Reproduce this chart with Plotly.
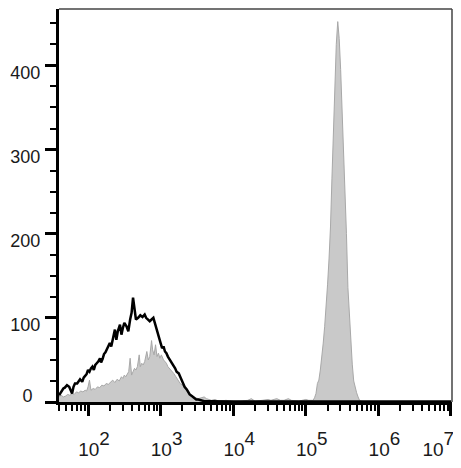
import plotly.graph_objects as go

# ---- data ----
# exponents (log10 of fluorescence) and event counts
gray_log = [1.60, 1.63, 1.66, 1.69, 1.72, 1.75, 1.78, 1.81, 1.84, 1.87, 1.90, 1.93, 1.96, 1.98,
            2.00, 2.02, 2.04, 2.07, 2.10, 2.13, 2.16, 2.19, 2.22, 2.25, 2.28, 2.31, 2.34, 2.37,
            2.40, 2.43, 2.46, 2.48, 2.50, 2.52, 2.54, 2.56, 2.58, 2.60, 2.62, 2.64, 2.66, 2.68,
            2.705, 2.72, 2.74, 2.76, 2.78, 2.81, 2.83, 2.85, 2.875, 2.89, 2.91, 2.93, 2.95, 2.97,
            2.99, 3.01, 3.04, 3.06, 3.08, 3.10, 3.12, 3.15, 3.18, 3.21, 3.24, 3.27, 3.30, 3.33,
            3.36, 3.39, 3.42, 3.45, 3.48, 3.52, 3.56, 3.60, 3.63, 3.66, 3.70, 3.75, 3.80, 3.90,
            4.00, 4.10, 4.20, 4.25, 4.30, 4.40, 4.48, 4.52, 4.56, 4.60, 4.65, 4.70, 4.76, 4.80,
            4.90, 4.95, 5.00, 5.04, 5.08,
            5.10, 5.12, 5.14, 5.16, 5.18, 5.20, 5.22, 5.24, 5.26, 5.28, 5.30, 5.32, 5.34, 5.36,
            5.38, 5.40, 5.42, 5.44, 5.46, 5.48, 5.50, 5.52, 5.54, 5.56, 5.58, 5.60, 5.62, 5.64,
            5.66, 5.68, 5.70, 5.72, 5.74, 5.76, 5.80, 6.00, 6.50, 7.00]
gray_count = [6, 8, 6, 7, 9, 8, 10, 9, 12, 11, 13, 12, 14, 13,
              18, 26, 14, 16, 15, 18, 17, 20, 19, 22, 21, 24, 26, 23,
              27, 25, 30, 28, 32, 30, 34, 36, 52, 32, 36, 40, 38, 42,
              56, 42, 46, 44, 48, 60, 50, 54, 73, 62, 56, 68, 54, 58,
              52, 56, 50, 48, 46, 42, 40, 38, 34, 30, 26, 22, 20, 16,
              13, 10, 8, 6, 5, 4, 5, 6, 4, 3, 2, 3, 1, 2,
              1, 1, 2, 4, 1, 2, 3, 2, 3, 4, 2, 2, 4, 2,
              1, 2, 3, 2, 2,
              2, 5, 10, 22, 26, 38, 52, 70, 90, 112, 140, 170, 208, 266,
              326, 378, 425, 452, 432, 395, 350, 310, 255, 200, 136, 100, 72, 45,
              25, 17, 11, 6, 2, 1, 0.5, 0.3, 0.2, 0.2]

black_log = [1.60, 1.63, 1.66, 1.68, 1.71, 1.74, 1.76, 1.78, 1.80, 1.82, 1.85, 1.87, 1.89, 1.92,
             1.94, 1.96, 1.98, 2.00, 2.02, 2.04, 2.06, 2.08, 2.10, 2.12, 2.14, 2.165, 2.18, 2.20,
             2.22, 2.24, 2.26, 2.28, 2.30, 2.32, 2.345, 2.37, 2.39, 2.41, 2.44, 2.46, 2.48, 2.50,
             2.53, 2.555, 2.58, 2.60, 2.62, 2.64, 2.66, 2.69, 2.72, 2.75, 2.78, 2.80, 2.82, 2.85,
             2.875, 2.90, 2.92, 2.95, 2.97, 3.00, 3.02, 3.04, 3.06, 3.08, 3.10, 3.13, 3.15, 3.17,
             3.20, 3.22, 3.25, 3.27, 3.29, 3.31, 3.33, 3.36, 3.38, 3.40, 3.43, 3.46, 3.49, 3.52,
             3.56, 3.60, 3.70, 4.00, 5.00, 6.00, 7.00]
black_count = [8, 12, 16, 17, 20, 18, 14, 10, 18, 22, 22, 25, 27, 24,
               29, 31, 33, 38, 36, 40, 42, 38, 44, 46, 48, 52, 47, 51,
               57, 59, 63, 66, 70, 66, 78, 86, 74, 84, 92, 80, 88, 94,
               90, 84, 98, 106, 124, 110, 98, 100, 103, 101, 104, 100, 98, 96,
               98, 100, 94, 86, 78, 70, 64, 66, 60, 58, 54, 50, 46, 44,
               40, 36, 34, 30, 26, 22, 18, 15, 12, 9, 7, 5, 3, 3,
               2, 1, 1, 0.6, 0.6, 0.6, 0.6]

major_ticks = [1e2, 1e3, 1e4, 1e5, 1e6, 1e7]
major_labels = ["2", "3", "4", "5", "6", "7"]
y_ticks = [0, 100, 200, 300, 400]
y_labels = ["0", "100", "200", "300", "400"]

# ---- figure ----
FONT = "Liberation Sans, Arial, sans-serif"
Y_RANGE = [0, 467]
Y_LABEL_OFFSET = 8.3   # count units: labels 100..400 sit ~7px below their ticks

def lab(p, trail=0):
    return ("<span style='font-size:19px'>10</span><sup>%s</sup>" % p) + "\u00a0" * trail

tick_text = [lab(p) for p in major_labels[:-1]] + [lab(major_labels[-1], 5)]

minor_vals = [m * 10 ** d for d in range(1, 7) for m in range(2, 10)]

fig = go.Figure()
fig.add_trace(go.Scatter(
    x=[10 ** e for e in gray_log], y=gray_count,
    mode="lines", line=dict(color="#a8a8a8", width=1),
    fill="tozeroy", fillcolor="#c9c9c9", hoverinfo="skip", showlegend=False))
fig.add_trace(go.Scatter(
    x=[10 ** e for e in black_log], y=black_count,
    mode="lines", line=dict(color="#000000", width=2.5),
    hoverinfo="skip", showlegend=False))
# empty trace so the label-only overlay axis is drawn
fig.add_trace(go.Scatter(x=[], y=[], yaxis="y2", showlegend=False, hoverinfo="skip"))

# the page body has an 8px default margin, so the figure is sized to fit inside
fig.update_layout(
    width=453, height=460,
    margin=dict(l=51, r=9, t=1, b=66),
    paper_bgcolor="white", plot_bgcolor="white",
    font=dict(family=FONT, size=18, color="#1a1a1a"),
    showlegend=False,
    xaxis=dict(
        type="log", range=[1.60, 7.014], automargin=False,
        tickmode="array", tickvals=major_ticks, ticktext=tick_text,
        ticks="outside", ticklen=11, tickwidth=3, tickcolor="#000",
        ticklabelshift=6, ticklabelstandoff=8, ticklabeloverflow="allow",
        tickfont=dict(family=FONT, size=27, color="#1a1a1a"),
        minor=dict(tickmode="array", tickvals=minor_vals, ticks="outside",
                   ticklen=6, tickwidth=2, tickcolor="#000", showgrid=False),
        showline=True, linewidth=2.5, linecolor="#000",
        showgrid=False, zeroline=False,
    ),
    yaxis=dict(
        range=Y_RANGE, automargin=False,
        tickmode="array", tickvals=y_ticks, ticktext=[y_labels[0]] + [""] * 4,
        ticks="outside", ticklen=11, tickwidth=3, tickcolor="#000",
        ticklabelshift=-6, ticklabelstandoff=9, ticklabeloverflow="allow",
        tickfont=dict(family=FONT, size=18, color="#1a1a1a"),
        minor=dict(dtick=25, ticks="outside", ticklen=6, tickwidth=2,
                   tickcolor="#000", showgrid=False),
        showline=True, linewidth=3, linecolor="#000",
        showgrid=False, zeroline=False,
    ),
    yaxis2=dict(
        overlaying="y", anchor="x", side="left", automargin=False,
        range=[Y_RANGE[0] + Y_LABEL_OFFSET, Y_RANGE[1] + Y_LABEL_OFFSET],
        tickmode="array", tickvals=y_ticks[1:], ticktext=y_labels[1:],
        ticks="outside", ticklen=11, tickwidth=1, tickcolor="rgba(0,0,0,0)",
        ticklabelstandoff=3, ticklabeloverflow="allow",
        tickfont=dict(family=FONT, size=18, color="#1a1a1a"),
        showline=False, showgrid=False, zeroline=False,
    ),
    shapes=[
        dict(type="line", xref="paper", yref="paper", x0=0, x1=1, y0=1, y1=1,
             line=dict(color="#444", width=1.5)),
        dict(type="line", xref="paper", yref="paper", x0=1, x1=1, y0=0, y1=1,
             line=dict(color="#444", width=1.5)),
    ],
)

fig.write_html("out.html")
